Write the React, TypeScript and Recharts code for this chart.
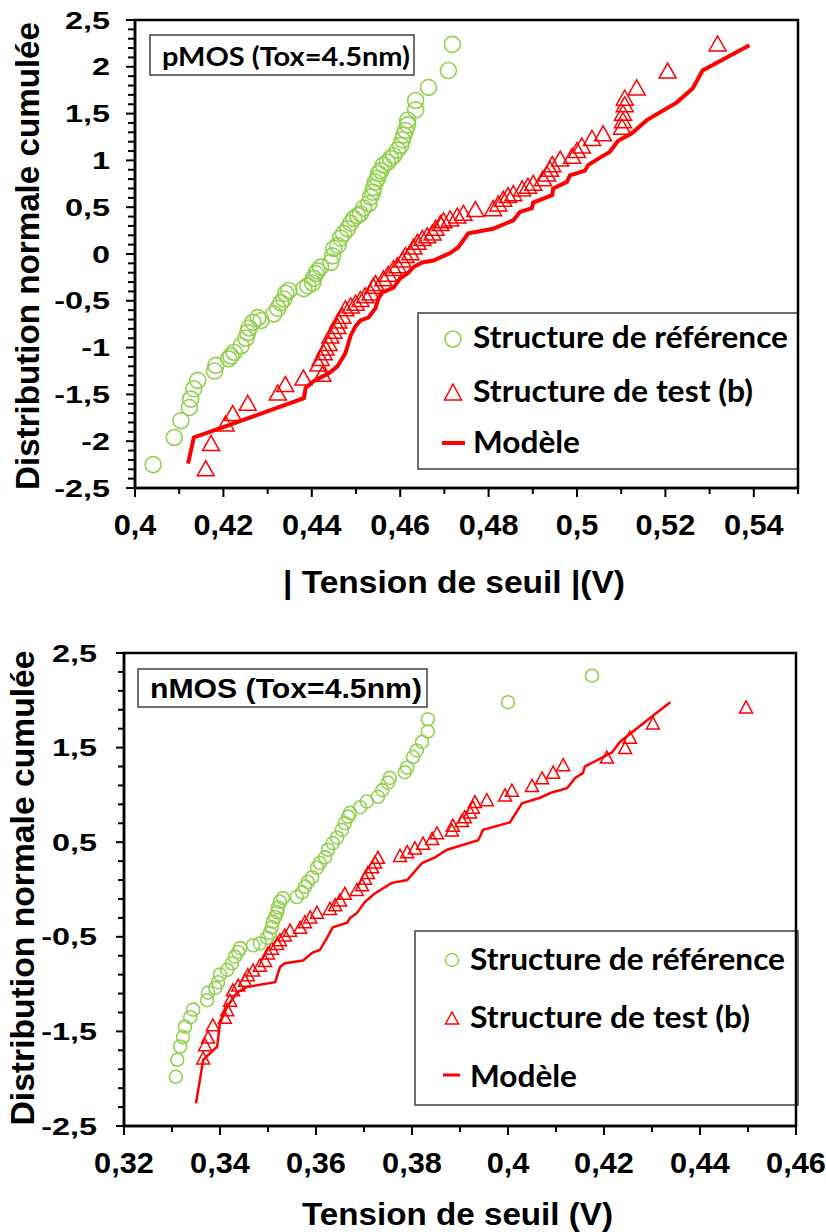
import React from 'react';
import { ScatterChart, Scatter, XAxis, YAxis, ReferenceArea, Customized } from 'recharts';

const GREEN = '#92D050';
const RED = '#FF0000';
const FONT = '"Liberation Sans", Arial, sans-serif';
const LEGEND_FONT = 'Lato, "Open Sans", sans-serif';

// ---- pMOS (top chart) ----
const P_REF_V = [0.4041, 0.4089, 0.4104, 0.4123, 0.4126, 0.4133, 0.4142, 0.418, 0.4183, 0.4212, 0.4217, 0.4224, 0.424, 0.4251, 0.4255, 0.4258, 0.4267, 0.4285, 0.4278, 0.4314, 0.4323, 0.433, 0.4337, 0.4341, 0.4348, 0.4382, 0.4391, 0.4402, 0.4404, 0.4409, 0.4413, 0.442, 0.4443, 0.4447, 0.445, 0.4459, 0.4465, 0.4472, 0.4481, 0.4488, 0.4495, 0.4504, 0.451, 0.4517, 0.4529, 0.4533, 0.4538, 0.454, 0.4544, 0.4549, 0.4551, 0.4556, 0.4562, 0.4571, 0.4578, 0.4585, 0.4594, 0.4601, 0.4605, 0.4608, 0.4612, 0.4617, 0.4617, 0.4635, 0.4635, 0.4664, 0.4709, 0.4718];
const P_REF_Z = [-2.25, -1.96, -1.78, -1.64, -1.55, -1.44, -1.35, -1.25, -1.19, -1.12, -1.09, -1.05, -0.98, -0.9, -0.84, -0.79, -0.73, -0.71, -0.68, -0.64, -0.58, -0.52, -0.48, -0.42, -0.39, -0.37, -0.34, -0.31, -0.26, -0.21, -0.18, -0.14, -0.09, -0.02, 0.06, 0.09, 0.17, 0.22, 0.27, 0.33, 0.38, 0.41, 0.43, 0.49, 0.54, 0.61, 0.66, 0.71, 0.77, 0.81, 0.86, 0.89, 0.95, 0.98, 1.02, 1.05, 1.11, 1.16, 1.22, 1.27, 1.32, 1.38, 1.43, 1.54, 1.64, 1.78, 1.96, 2.24];

const P_TEST_V = [0.416, 0.4172, 0.4205, 0.4221, 0.4255, 0.4323, 0.434, 0.4381, 0.4424, 0.4415, 0.442, 0.4427, 0.4431, 0.4438, 0.4442, 0.4449, 0.4458, 0.446, 0.4469, 0.4476, 0.4488, 0.4499, 0.451, 0.4521, 0.4533, 0.4539, 0.4544, 0.4562, 0.4573, 0.4585, 0.4594, 0.4605, 0.4612, 0.4623, 0.463, 0.4639, 0.465, 0.4661, 0.4673, 0.468, 0.4691, 0.4698, 0.4713, 0.4729, 0.4743, 0.477, 0.481, 0.4822, 0.4833, 0.4844, 0.4856, 0.4876, 0.4889, 0.4901, 0.4923, 0.4932, 0.4939, 0.4944, 0.4962, 0.4989, 0.5, 0.5011, 0.5034, 0.5059, 0.5102, 0.5104, 0.5104, 0.5108, 0.5108, 0.5135, 0.5205, 0.5318];
const P_TEST_Z = [-2.29, -2.02, -1.81, -1.7, -1.59, -1.48, -1.39, -1.32, -1.28, -1.17, -1.11, -1.05, -1.0, -0.95, -0.87, -0.82, -0.77, -0.71, -0.66, -0.58, -0.55, -0.52, -0.48, -0.44, -0.41, -0.34, -0.31, -0.26, -0.21, -0.15, -0.12, -0.06, -0.01, 0.02, 0.08, 0.13, 0.17, 0.2, 0.23, 0.28, 0.33, 0.36, 0.38, 0.41, 0.44, 0.48, 0.49, 0.54, 0.59, 0.63, 0.65, 0.7, 0.73, 0.76, 0.81, 0.86, 0.91, 0.96, 1.02, 1.05, 1.11, 1.16, 1.24, 1.29, 1.36, 1.43, 1.51, 1.6, 1.67, 1.78, 1.96, 2.25];

const P_MODEL_V = [0.412, 0.4133, 0.4187, 0.4382, 0.4386, 0.4404, 0.444, 0.4458, 0.4476, 0.4488, 0.4499, 0.451, 0.4528, 0.4544, 0.4551, 0.456, 0.4585, 0.46, 0.4616, 0.463, 0.465, 0.4675, 0.4713, 0.4731, 0.4754, 0.481, 0.4856, 0.4871, 0.4898, 0.4901, 0.4944, 0.4946, 0.4977, 0.4984, 0.5018, 0.5025, 0.5052, 0.5074, 0.5093, 0.5124, 0.5158, 0.5226, 0.5262, 0.5284, 0.539];
const P_MODEL_Z = [-2.24, -1.96, -1.87, -1.54, -1.43, -1.36, -1.27, -1.2, -1.06, -0.87, -0.77, -0.71, -0.68, -0.58, -0.47, -0.41, -0.36, -0.26, -0.21, -0.14, -0.09, -0.07, 0.01, 0.07, 0.22, 0.27, 0.36, 0.45, 0.49, 0.55, 0.63, 0.7, 0.77, 0.84, 0.89, 0.95, 1.03, 1.09, 1.21, 1.29, 1.43, 1.62, 1.77, 1.96, 2.23];

// ---- nMOS (bottom chart) ----
const N_REF_V = [0.3308, 0.3311, 0.3317, 0.3323, 0.3327, 0.3338, 0.3344, 0.3373, 0.3375, 0.339, 0.3396, 0.34, 0.3415, 0.3425, 0.3431, 0.3438, 0.3442, 0.3469, 0.3483, 0.3498, 0.3504, 0.3508, 0.351, 0.3515, 0.3519, 0.3521, 0.3525, 0.3531, 0.356, 0.3571, 0.3577, 0.3583, 0.3592, 0.3602, 0.3608, 0.3619, 0.3625, 0.3635, 0.3644, 0.3654, 0.366, 0.3667, 0.3671, 0.3692, 0.3706, 0.3729, 0.3738, 0.375, 0.3754, 0.3785, 0.379, 0.3802, 0.381, 0.3821, 0.3833, 0.3833, 0.4, 0.4175];
const N_REF_Z = [-1.98, -1.8, -1.66, -1.56, -1.45, -1.35, -1.27, -1.17, -1.09, -1.04, -0.98, -0.9, -0.85, -0.78, -0.71, -0.66, -0.62, -0.59, -0.57, -0.51, -0.46, -0.4, -0.34, -0.29, -0.24, -0.19, -0.13, -0.09, -0.08, -0.03, 0.03, 0.08, 0.13, 0.23, 0.28, 0.34, 0.42, 0.49, 0.55, 0.63, 0.7, 0.77, 0.81, 0.87, 0.93, 0.98, 1.05, 1.13, 1.18, 1.24, 1.29, 1.4, 1.47, 1.56, 1.67, 1.8, 1.98, 2.26];

const N_TEST_V = [0.3365, 0.3369, 0.3375, 0.3385, 0.341, 0.3415, 0.3421, 0.3427, 0.3438, 0.3452, 0.3458, 0.3469, 0.3483, 0.3494, 0.35, 0.3508, 0.3519, 0.3525, 0.3535, 0.3546, 0.3567, 0.3577, 0.3588, 0.3602, 0.3629, 0.364, 0.365, 0.366, 0.3685, 0.3696, 0.3702, 0.3708, 0.3717, 0.3723, 0.3729, 0.3775, 0.379, 0.3806, 0.3823, 0.3842, 0.3852, 0.3883, 0.3885, 0.3904, 0.391, 0.3921, 0.3927, 0.3931, 0.3956, 0.3994, 0.4008, 0.405, 0.4071, 0.4094, 0.4115, 0.4206, 0.4244, 0.4254, 0.4302, 0.4496];
const N_TEST_Z = [-1.78, -1.64, -1.56, -1.43, -1.35, -1.27, -1.17, -1.06, -1.01, -0.96, -0.9, -0.85, -0.8, -0.75, -0.67, -0.62, -0.57, -0.53, -0.48, -0.43, -0.4, -0.34, -0.29, -0.24, -0.2, -0.16, -0.11, -0.04, 0.0, 0.05, 0.12, 0.18, 0.24, 0.29, 0.34, 0.36, 0.4, 0.44, 0.49, 0.54, 0.6, 0.63, 0.68, 0.73, 0.77, 0.82, 0.87, 0.93, 0.95, 1.0, 1.05, 1.1, 1.18, 1.24, 1.32, 1.4, 1.5, 1.61, 1.76, 1.93];

const N_MODEL_V = [0.335, 0.3365, 0.3394, 0.34, 0.3415, 0.3435, 0.3456, 0.3515, 0.3525, 0.3535, 0.3573, 0.3592, 0.3608, 0.3622, 0.3635, 0.3665, 0.3671, 0.3685, 0.3702, 0.3723, 0.3758, 0.379, 0.3821, 0.3848, 0.3873, 0.3938, 0.3948, 0.4004, 0.4029, 0.4067, 0.4088, 0.4123, 0.414, 0.4156, 0.416, 0.4198, 0.4217, 0.4233, 0.429, 0.4338];
const N_MODEL_Z = [-2.26, -1.8, -1.66, -1.41, -1.24, -1.09, -1.03, -0.98, -0.82, -0.78, -0.75, -0.67, -0.64, -0.52, -0.4, -0.35, -0.3, -0.25, -0.13, -0.04, 0.07, 0.1, 0.28, 0.34, 0.42, 0.52, 0.63, 0.71, 0.91, 0.97, 1.02, 1.07, 1.18, 1.23, 1.3, 1.4, 1.45, 1.56, 1.79, 1.98];

// axis ticks
const P_X_LABELS = [0.4, 0.42, 0.44, 0.46, 0.48, 0.5, 0.52, 0.54];
const P_Y_LABELS = [2.5, 2, 1.5, 1, 0.5, 0, -0.5, -1, -1.5, -2, -2.5];
const N_X_LABELS = [0.32, 0.34, 0.36, 0.38, 0.4, 0.42, 0.44, 0.46];
const N_Y_LABELS = [2.5, 1.5, 0.5, -0.5, -1.5, -2.5];

const LEGEND_NAMES = ['Structure de référence', 'Structure de test (b)', 'Modèle'];

const zip = (v: number[], z: number[]) => v.map((x, i) => ({ x, y: z[i] }));
const r2 = (v: number) => Math.round(v * 100) / 100;
const fmt = (v: number) => String(r2(v)).replace('.', ',');
const steps = (from: number, to: number, step: number) => {
  const out: number[] = [];
  const n = Math.round((to - from) / step);
  for (let i = 0; i <= n; i++) out.push(r2(from + i * step));
  return out;
};

const Circle = (r: number, w: number) => (p: any) =>
  <circle cx={p.cx} cy={p.cy} r={r} fill="none" stroke={GREEN} strokeWidth={w} />;

const Tri = (hw: number, hh: number, w: number) => (p: any) =>
  <polygon
    points={`${p.cx},${p.cy - hh} ${p.cx - hw},${p.cy + hh} ${p.cx + hw},${p.cy + hh}`}
    fill="none" stroke={RED} strokeWidth={w} />;

const makeXTick = (labels: number[]) => (p: any) => {
  const v = r2(p.payload.value);
  const major = labels.some((l) => r2(l) === v);
  return (
    <g>
      <line x1={p.x} x2={p.x} y1={p.y} y2={p.y + (major ? 9 : 6)} stroke="#000" strokeWidth={2} />
      {major && (
        <text transform={`translate(${p.x},${p.y + 47}) scale(1.06,1)`} textAnchor="middle"
          fontFamily={FONT} fontWeight="bold" fontSize={29} fill="#000">{fmt(v)}</text>
      )}
    </g>
  );
};

const makeYTick = (labels: number[], gap: number, majLen: number, minLen: number) => (p: any) => {
  const v = r2(p.payload.value);
  const major = labels.some((l) => r2(l) === v);
  return (
    <g>
      <line x1={p.x} x2={p.x - (major ? majLen : minLen)} y1={p.y} y2={p.y} stroke="#000" strokeWidth={2} />
      {major && (
        <text transform={`translate(${p.x - gap},${p.y + 8.5}) scale(1.35,1)`} textAnchor="end"
          fontFamily={FONT} fontWeight="bold" fontSize={24} fill="#000">{fmt(v)}</text>
      )}
    </g>
  );
};

type Cfg = {
  width: number; height: number;
  margin: { top: number; right: number; bottom: number; left: number };
  xDomain: [number, number]; xLabels: number[]; yMinor: number; yLabels: number[];
  ref: { x: number; y: number }[]; test: { x: number; y: number }[]; model: { x: number; y: number }[];
  circleR: number; triHW: number; triHH: number; lineW: number;
  yTickGap: number; yMaj: number; yMin: number;
  annotations: () => React.ReactNode;
};

const AXIS_SIZE = 60;

const Panel = ({ c }: { c: Cfg }) => (
  <ScatterChart width={c.width} height={c.height} margin={c.margin}>
    <XAxis type="number" dataKey="x" domain={c.xDomain} ticks={steps(c.xDomain[0], c.xDomain[1], 0.01)}
      interval={0} height={AXIS_SIZE} tickSize={0} tickMargin={0} tickLine={false}
      axisLine={{ stroke: '#000', strokeWidth: 2.5 }} tick={makeXTick(c.xLabels)} allowDataOverflow />
    <YAxis type="number" dataKey="y" domain={[-2.5, 2.5]} ticks={steps(-2.5, 2.5, c.yMinor)}
      interval={0} width={AXIS_SIZE} tickSize={0} tickMargin={0} tickLine={false}
      axisLine={{ stroke: '#000', strokeWidth: 2.5 }} tick={makeYTick(c.yLabels, c.yTickGap, c.yMaj, c.yMin)} allowDataOverflow />
    <ReferenceArea x1={c.xDomain[0]} x2={c.xDomain[1]} y1={-2.5} y2={2.5} fill="none" fillOpacity={0}
      stroke="#000" strokeWidth={2.5} />
    <Scatter data={c.model} fill={RED} line={{ stroke: RED, strokeWidth: c.lineW }} shape={() => <g />}
      isAnimationActive={false} />
    <Scatter data={c.test} shape={Tri(c.triHW, c.triHH, 1.5)} isAnimationActive={false} />
    <Scatter data={c.ref} shape={Circle(c.circleR, 1.6)} isAnimationActive={false} />
    <Customized component={c.annotations} />
  </ScatterChart>
);

const bold = (size: number, family = FONT) => ({ fontFamily: family, fontWeight: 'bold' as const, fontSize: size, fill: '#000' });

const topNotes = () => (
  <g>
    <rect x={150} y={35} width={264} height={40} fill="#fff" stroke="#404040" strokeWidth={1.5} />
    <text x={162} y={66} textLength={248} lengthAdjust="spacingAndGlyphs" {...bold(26, LEGEND_FONT)}>pMOS (Tox=4.5nm)</text>
    <rect x={418} y={313} width={380} height={156} fill="#fff" stroke="#404040" strokeWidth={1.5} />
    <circle cx={453} cy={339} r={8} fill="none" stroke={GREEN} strokeWidth={1.6} />
    <polygon points="453,384 444.5,400 461.5,400" fill="none" stroke={RED} strokeWidth={1.5} />
    <line x1={442} x2={465} y1={443} y2={443} stroke={RED} strokeWidth={4} />
    <text x={473} y={348} textLength={315} lengthAdjust="spacingAndGlyphs" {...bold(30, LEGEND_FONT)}>{LEGEND_NAMES[0]}</text>
    <text x={473} y={402} textLength={280} lengthAdjust="spacingAndGlyphs" {...bold(30, LEGEND_FONT)}>{LEGEND_NAMES[1]}</text>
    <text x={473} y={453} textLength={107} lengthAdjust="spacingAndGlyphs" {...bold(30, LEGEND_FONT)}>{LEGEND_NAMES[2]}</text>
    <text transform="translate(39,256) rotate(-90)" textAnchor="middle" textLength={468} lengthAdjust="spacingAndGlyphs"
      {...bold(33)}>Distribution normale cumulée</text>
    <text x={283} y={593} textLength={342} lengthAdjust="spacingAndGlyphs" {...bold(31)}>| Tension de seuil |(V)</text>
  </g>
);

const bottomNotes = () => (
  <g>
    <rect x={138} y={49} width={289} height={38} fill="#fff" stroke="#404040" strokeWidth={1.5} />
    <text x={150} y={78} textLength={272} lengthAdjust="spacingAndGlyphs" {...bold(28)}>nMOS (Tox=4.5nm)</text>
    <rect x={415} y={311} width={383} height={174} fill="#fff" stroke="#404040" strokeWidth={1.5} />
    <circle cx={452} cy={340} r={6.5} fill="none" stroke={GREEN} strokeWidth={1.4} />
    <polygon points="452,392 445.5,404 458.5,404" fill="none" stroke={RED} strokeWidth={1.4} />
    <line x1={443} x2={460} y1={455} y2={455} stroke={RED} strokeWidth={3} />
    <text x={470} y={350} textLength={315} lengthAdjust="spacingAndGlyphs" {...bold(30, LEGEND_FONT)}>{LEGEND_NAMES[0]}</text>
    <text x={470} y={408} textLength={280} lengthAdjust="spacingAndGlyphs" {...bold(30, LEGEND_FONT)}>{LEGEND_NAMES[1]}</text>
    <text x={470} y={467} textLength={107} lengthAdjust="spacingAndGlyphs" {...bold(30, LEGEND_FONT)}>{LEGEND_NAMES[2]}</text>
    <text transform="translate(34,268) rotate(-90)" textAnchor="middle" textLength={475} lengthAdjust="spacingAndGlyphs"
      {...bold(34)}>Distribution normale cumulée</text>
    <text x={302} y={605} textLength={311} lengthAdjust="spacingAndGlyphs" {...bold(32)}>Tension de seuil (V)</text>
  </g>
);

const TOP: Cfg = {
  width: 826, height: 620, margin: { top: 20, right: 28, bottom: 132 - AXIS_SIZE, left: 135 - AXIS_SIZE },
  xDomain: [0.4, 0.55], xLabels: P_X_LABELS, yMinor: 0.1, yLabels: P_Y_LABELS,
  ref: zip(P_REF_V, P_REF_Z), test: zip(P_TEST_V, P_TEST_Z), model: zip(P_MODEL_V, P_MODEL_Z),
  circleR: 8, triHW: 8.5, triHH: 7.5, lineW: 4,
  yTickGap: 25, yMaj: 9, yMin: 7, annotations: topNotes,
};

const BOTTOM: Cfg = {
  width: 826, height: 612, margin: { top: 33, right: 30, bottom: 106 - AXIS_SIZE, left: 124 - AXIS_SIZE },
  xDomain: [0.32, 0.46], xLabels: N_X_LABELS, yMinor: 0.2, yLabels: N_Y_LABELS,
  ref: zip(N_REF_V, N_REF_Z), test: zip(N_TEST_V, N_TEST_Z), model: zip(N_MODEL_V, N_MODEL_Z),
  circleR: 6.5, triHW: 6.5, triHH: 6, lineW: 2.5,
  yTickGap: 27, yMaj: 8, yMin: 6, annotations: bottomNotes,
};

export default function App() {
  return (
    <div style={{ position: 'absolute', left: 0, top: 0, width: 826, height: 1232, background: '#fff' }}>
      <div style={{ position: 'absolute', left: 0, top: 0 }}>
        <Panel c={TOP} />
      </div>
      <div style={{ position: 'absolute', left: 0, top: 620 }}>
        <Panel c={BOTTOM} />
      </div>
    </div>
  );
}
